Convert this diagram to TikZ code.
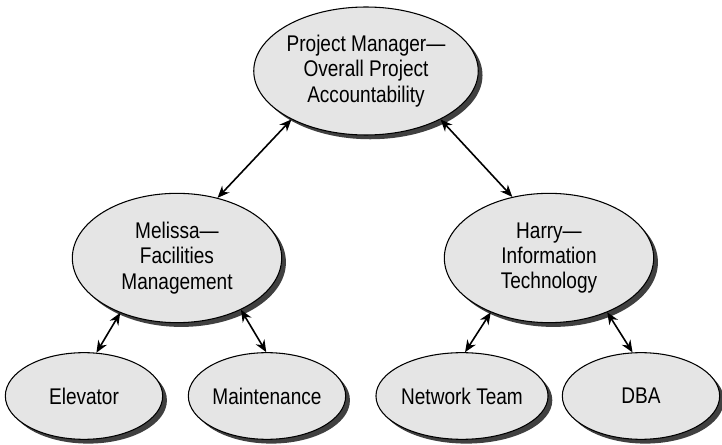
\documentclass[tikz,border=0pt]{standalone}
\usepackage{fontspec}
\setmainfont[FakeStretch=0.84]{Liberation Sans}
\usepackage{tikz}
\usetikzlibrary{shapes.geometric}
\usetikzlibrary{shadows}
\usetikzlibrary{arrows.meta}
\tikzset{
    role/.style={shape=ellipse, draw=black, line width=0.8pt, fill=black!10,
        align=center, inner sep=0pt,
        font=\fontsize{17}{19}\selectfont,
        drop shadow={shadow xshift=3.2pt, shadow yshift=-3.2pt, fill=black!75, opacity=1}},
    boss/.style={role, minimum width=164pt, minimum height=96pt},
    lead/.style={role, minimum width=157pt, minimum height=97pt},
    crew/.style={role, minimum width=118pt, minimum height=65pt},
    link/.style={{Stealth[length=9pt,width=7.5pt]}-{Stealth[length=9pt,width=7.5pt]}, line width=1.2pt}}

\begin{document}
\begin{tikzpicture}[x=0.75pt, y=-0.75pt]
        \useasboundingbox (0,0) rectangle (722,445);

            \node[boss] (P) at (366,71) {Project Manager---\\Overall Project\\Accountability};
            \node[lead] (M) at (177,258) {Melissa---\\Facilities\\Management};
            \node[lead] (H) at (549,258) {Harry---\\Information\\Technology};
            \node[crew] (E) at (84,396) {Elevator};
            \node[crew] (T) at (267,396) {Maintenance};
            \node[crew] (N) at (462,396) {Network Team};
            \node[crew] (D) at (641,396) {DBA};

            \draw[link] (P.213) -- (M.56);
            \draw[link] (P.327) -- (H.121);
            \draw[link] (M.224) -- (E.74);
            \draw[link] (M.321) -- (T.91);
            \draw[link] (H.223) -- (N.86);
            \draw[link] (H.317) -- (D.101);

        \end{tikzpicture}
\end{document}
